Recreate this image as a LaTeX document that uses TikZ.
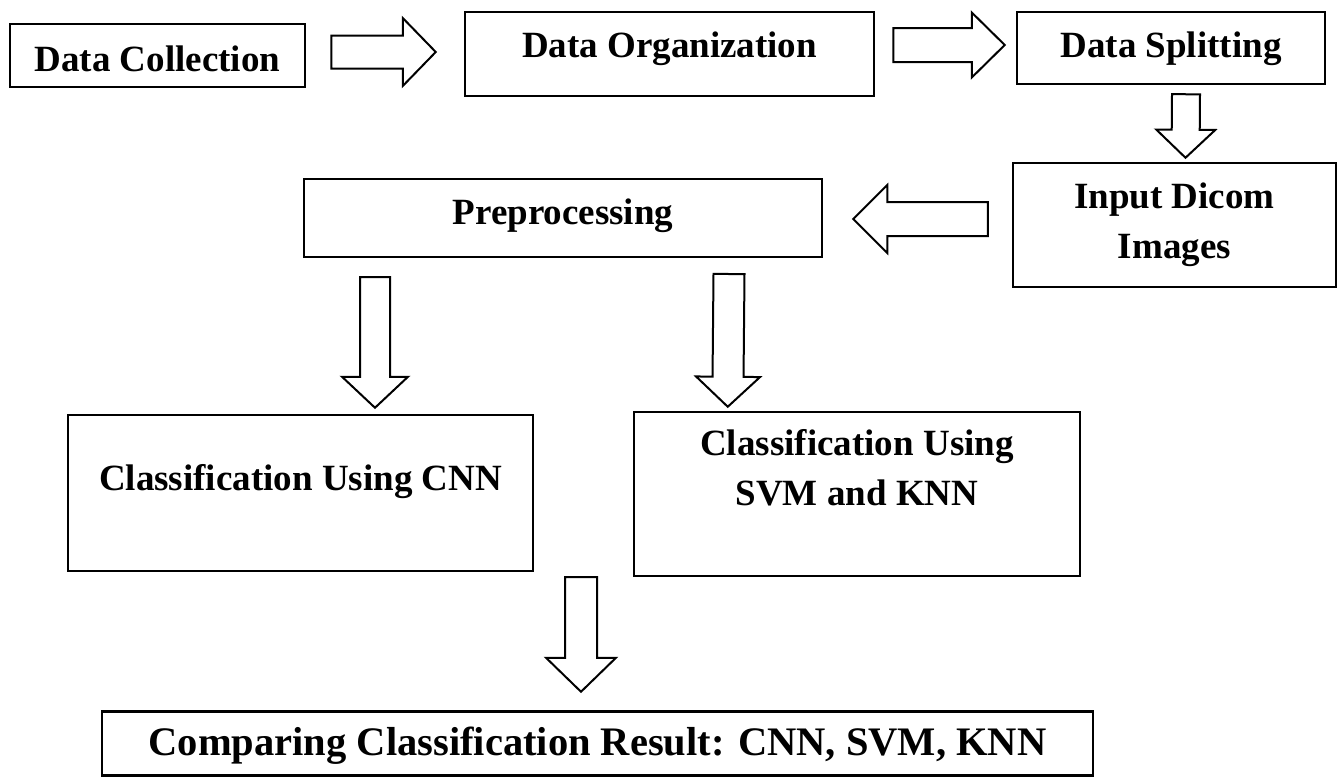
\documentclass[tikz,border=0pt]{standalone}
\usepackage{fontspec}
\setmainfont{Liberation Serif}
\usetikzlibrary{calc}
\begin{document}
\begin{tikzpicture}[x=1pt,y=-1pt,
  box/.style={draw, line width=2.5pt, inner sep=0pt,
    font=\fontsize{37}{50}\selectfont\bfseries, align=center},
  % hollow block arrow drawn between two points:
  % #1 = half shaft width, #2 = half head width, #3 = head length
  blk/.style n args={3}{draw, line width=2pt, line join=miter, fill=white,
    to path={let \p1=(\tikztostart), \p2=(\tikztotarget),
      \p3=($(\p2)!#3!(\p1)$) in
      ($(\p1)!#1!90:(\p2)$) -- ($(\p3)!#1!90:(\p2)$) -- ($(\p3)!#2!90:(\p2)$)
      -- (\p2) -- ($(\p3)!#2!-90:(\p2)$) -- ($(\p3)!#1!-90:(\p2)$)
      -- ($(\p1)!#1!-90:(\p2)$) -- cycle}}]

\path[fill=white] (0,0) rectangle (1344,782);
\useasboundingbox (0,0) rectangle (1344,782);

% process boxes
\node[box, minimum width=295pt, minimum height=63pt, text height=47pt, text depth=16pt]
  (dcol) at (157.5,55.5) {Data Collection};
\node[box, minimum width=409pt, minimum height=84pt, text height=45pt, text depth=39pt]
  (dorg) at (669.5,54) {Data Organization};
\node[box, minimum width=308pt, minimum height=72pt, text height=45pt, text depth=27pt]
  (dspl) at (1171,48) {Data Splitting};
\node[box, minimum width=323pt, minimum height=124pt, text height=45pt, text depth=79pt]
  (dicom) at (1174.5,225) {\begin{tabular}[t]{@{}c@{}}Input Dicom\\Images\end{tabular}};
\node[box, minimum width=518pt, minimum height=78pt, text height=45pt, text depth=33pt]
  (pre) at (563,218) {Preprocessing};
\node[box, minimum width=465pt, minimum height=156pt, text height=75pt, text depth=81pt]
  (cnn) at (300.5,493) {Classification Using CNN};
\node[box, minimum width=446pt, minimum height=164pt, text height=43pt, text depth=121pt]
  (svm) at (857,494) {\begin{tabular}[t]{@{}c@{}}Classification Using\\SVM and KNN\end{tabular}};
\node[box, font=\fontsize{40.5}{50}\selectfont\bfseries,
  minimum width=991pt, minimum height=64pt, text height=44pt, text depth=20pt]
  (cmp) at (597.5,743.5) {Comparing Classification Result: CNN, SVM, KNN};

% arrow end points
\coordinate (a1s) at ($(dcol.east)+(25,-3.5)$);
\coordinate (a1e) at ($(dorg.west)+(-28,-2)$);
\coordinate (a2s) at ($(dorg.east)+(18,-9)$);
\coordinate (a2e) at ($(dspl.west)+(-11,-3)$);
\coordinate (a3s) at ($(dspl.south)+(15,9)$);
\coordinate (a3e) at ($(dicom.north)+(11,-4)$);
\coordinate (a4s) at ($(dicom.west)+(-24,-6)$);
\coordinate (a4e) at ($(pre.east)+(30,1)$);
\coordinate (a5s) at (375,277);
\coordinate (a5e) at ($(cnn.north)+(74.5,-6)$);
\coordinate (a6s) at (729,274);
\coordinate (a6e) at ($(svm.north west)+(95,-4)$);
\coordinate (a7s) at (581,577);
\coordinate (a7e) at ($(cmp.north)+(-16.5,-18.5)$);

% flow arrows
\draw[blk={16.5pt}{34pt}{33pt}] (a1s) to (a1e);
\draw[blk={17pt}{32.5pt}{33pt}] (a2s) to (a2e);
\draw[blk={14pt}{29.5pt}{28pt}] (a3s) to (a3e);
\draw[blk={17pt}{34pt}{34pt}] (a4s) to (a4e);
\draw[blk={15pt}{33pt}{31pt}] (a5s) to (a5e);
\draw[blk={15.5pt}{32pt}{30pt}] (a6s) to (a6e);
\draw[blk={16pt}{35pt}{34pt}] (a7s) to (a7e);
\end{tikzpicture}
\end{document}
